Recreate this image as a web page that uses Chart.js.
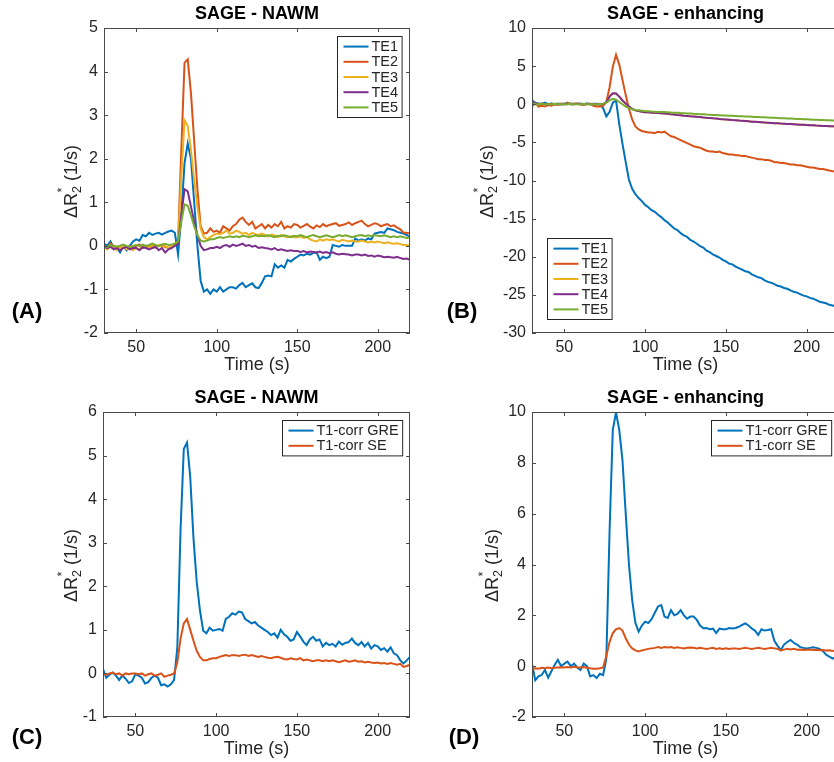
<!DOCTYPE html>
<html>
<head>
<meta charset="utf-8">
<script src="https://cdn.jsdelivr.net/npm/chart.js@4.4.1/dist/chart.umd.min.js"></script>
<style>
  html, body { margin: 0; padding: 0; background: #fff; overflow: hidden; width: 834px; height: 762px; }
  canvas { position: absolute; }
</style>
</head>
<body>
<canvas id="chartA" width="420" height="380" style="left:0;top:0"></canvas>
<canvas id="chartB" width="430" height="380" style="left:420px;top:0"></canvas>
<canvas id="chartC" width="420" height="382" style="left:0;top:380px"></canvas>
<canvas id="chartD" width="430" height="382" style="left:420px;top:380px"></canvas>
<script>
/* global Chart */
// sample times (s)
const time = [
  30, 32, 34, 36, 38, 40, 42, 44, 46, 48,
  50, 52, 54, 56, 58, 60, 62, 64, 66, 68,
  70, 72, 74, 76, 78, 80, 82, 84, 86, 88,
  90, 92, 94, 96, 98, 100, 102, 104, 106, 108,
  110, 112, 114, 116, 118, 120, 122, 124, 126, 128,
  130, 132, 134, 136, 138, 140, 142, 144, 146, 148,
  150, 152, 154, 156, 158, 160, 162, 164, 166, 168,
  170, 172, 174, 176, 178, 180, 182, 184, 186, 188,
  190, 192, 194, 196, 198, 200, 202, 204, 206, 208,
  210, 212, 214, 216, 218, 220,
];

const timeTicks = [50, 100, 150, 200];
const ticksA = [-2, -1, 0, 1, 2, 3, 4, 5];
const ticksB = [-30, -25, -20, -15, -10, -5, 0, 5, 10];
const ticksC = [-1, 0, 1, 2, 3, 4, 5, 6];
const ticksD = [-2, 0, 2, 4, 6, 8, 10];

const teLabels = ['TE1', 'TE2', 'TE3', 'TE4', 'TE5'];
const corrLabels = ['T1-corr GRE', 'T1-corr SE'];

// (A) SAGE - NAWM, per echo
const nawmTE1 = [
  0.05, 0.0, 0.1, -0.05, -0.05, -0.15, 0.0, -0.1, 0.0, 0.1,
  0.15, 0.12, 0.25, 0.22, 0.3, 0.25, 0.28, 0.3, 0.26, 0.3,
  0.33, 0.35, 0.3, -0.2, 0.7, 1.9, 2.35, 2.0, 1.0, 0.0,
  -0.8, -1.05, -1.0, -1.1, -1.0, -1.05, -0.95, -1.05, -1.0, -0.95,
  -0.95, -0.98, -0.9, -0.85, -0.95, -0.9, -0.86, -0.95, -0.97, -0.85,
  -0.7, -0.68, -0.7, -0.42, -0.5, -0.45, -0.5, -0.32, -0.36, -0.3,
  -0.25, -0.2, -0.22, -0.18, -0.2, -0.16, -0.15, -0.32, -0.25, -0.28,
  -0.25, 0.02, 0.0, -0.02, 0.02, 0.0, 0.0, 0.0, 0.17, 0.12,
  0.15, 0.12, 0.17, 0.15, 0.28, 0.3, 0.32, 0.3, 0.4, 0.38,
  0.36, 0.32, 0.3, 0.28, 0.25, 0.2,
];
const nawmTE2 = [
  0.0, -0.05, 0.05, 0.0, -0.05, 0.0, 0.02, -0.05, 0.0, -0.05,
  0.0, 0.03, -0.05, 0.0, -0.03, 0.02, -0.02, 0.0, 0.02, -0.03,
  -0.05, 0.0, 0.02, 0.1, 2.2, 4.2, 4.28, 3.5, 2.4, 1.3,
  0.45, 0.28, 0.3, 0.4, 0.32, 0.35, 0.3, 0.45, 0.4, 0.35,
  0.45, 0.5, 0.6, 0.65, 0.55, 0.48, 0.55, 0.4, 0.45, 0.5,
  0.4, 0.48, 0.42, 0.5, 0.45, 0.55, 0.4, 0.45, 0.42, 0.5,
  0.48, 0.42, 0.46, 0.5, 0.44, 0.4, 0.47, 0.43, 0.5, 0.45,
  0.48, 0.5, 0.52, 0.46, 0.48, 0.5, 0.54, 0.48, 0.52, 0.55,
  0.58, 0.5, 0.45, 0.48, 0.52, 0.5, 0.45, 0.48, 0.5, 0.45,
  0.47, 0.42, 0.38, 0.3, 0.3, 0.28,
];
const nawmTE3 = [
  -0.02, -0.08, 0.0, -0.05, -0.1, -0.05, 0.0, -0.08, -0.05, -0.1,
  -0.05, -0.08, 0.0, -0.05, -0.03, 0.0, -0.05, 0.02, -0.03, 0.0,
  -0.05, 0.0, 0.05, 0.1, 1.6, 2.88, 2.75, 2.2, 1.5, 0.9,
  0.4, 0.2, 0.15, 0.2, 0.25, 0.28, 0.27, 0.3, 0.35, 0.28,
  0.3, 0.35, 0.32, 0.28, 0.3, 0.25, 0.3, 0.27, 0.25, 0.28,
  0.25, 0.22, 0.26, 0.24, 0.2, 0.25, 0.22, 0.2, 0.22, 0.2,
  0.2, 0.22, 0.18, 0.2, 0.15, 0.12, 0.1, 0.15, 0.12, 0.15,
  0.13, 0.15, 0.12, 0.1, 0.14, 0.12, 0.1, 0.12, 0.1, 0.1,
  0.12, 0.1, 0.08, 0.1, 0.08, 0.1, 0.08, 0.06, 0.08, 0.06,
  0.05, 0.06, 0.04, 0.02, 0.02, 0.0,
];
const nawmTE4 = [
  0.0, -0.05, -0.02, -0.08, -0.05, -0.1, -0.05, -0.02, -0.08, -0.05,
  -0.05, -0.1, -0.03, -0.05, -0.08, -0.05, -0.02, -0.1, -0.05, -0.15,
  -0.08, -0.05, 0.0, 0.05, 0.7, 1.3, 1.25, 0.9, 0.55, 0.25,
  0.0, -0.1, -0.08, -0.05, -0.05, -0.02, -0.05, 0.0, 0.02, -0.02,
  0.03, 0.0, 0.02, 0.05, 0.0, 0.02, -0.02, 0.0, -0.05, -0.03,
  -0.05, -0.06, -0.08, -0.05, -0.1, -0.08, -0.1, -0.12, -0.1, -0.12,
  -0.12, -0.14, -0.12, -0.15, -0.13, -0.14, -0.15, -0.13, -0.16, -0.14,
  -0.17, -0.15, -0.18, -0.2, -0.18, -0.19, -0.2, -0.22, -0.2, -0.2,
  -0.22, -0.2, -0.23, -0.22, -0.25, -0.22, -0.24, -0.26, -0.25, -0.26,
  -0.27, -0.25, -0.28, -0.3, -0.29, -0.32,
];
const nawmTE5 = [
  0.0, -0.03, 0.02, 0.0, -0.02, 0.0, 0.03, 0.0, -0.02, 0.0,
  0.02, 0.0, 0.03, 0.0, 0.02, 0.05, 0.02, 0.0, 0.03, 0.05,
  0.02, 0.03, 0.05, 0.1, 0.55, 0.95, 0.92, 0.7, 0.45, 0.25,
  0.12, 0.1, 0.12, 0.15, 0.15, 0.18, 0.2, 0.18, 0.2, 0.22,
  0.2, 0.22, 0.2, 0.23, 0.22, 0.2, 0.22, 0.24, 0.22, 0.23,
  0.22, 0.24, 0.22, 0.2, 0.23, 0.22, 0.24, 0.22, 0.2, 0.23,
  0.22, 0.25, 0.22, 0.2, 0.23, 0.25, 0.22, 0.2, 0.22, 0.24,
  0.22, 0.2, 0.22, 0.25, 0.22, 0.24, 0.22, 0.2, 0.22, 0.24,
  0.25, 0.22, 0.24, 0.22, 0.25, 0.23, 0.22, 0.24, 0.22, 0.2,
  0.22, 0.2, 0.22, 0.2, 0.18, 0.2,
];

// (B) SAGE - enhancing, per echo
const enhTE1 = [
  0.5, 0.2, 0.1, 0.0, 0.2, 0.0, 0.1, 0.0, 0.1, 0.0,
  0.1, 0.0, 0.1, 0.0, 0.05, 0.1, 0.0, 0.1, 0.0, 0.05,
  0.05, 0.0, -0.5, -1.6, -1.0, 0.2, 0.5, -2.6, -5.2, -7.6,
  -9.9, -11.1, -11.8, -12.3, -12.7, -13.2, -13.5, -13.9, -14.1, -14.5,
  -14.8, -15.2, -15.5, -15.9, -16.3, -16.5, -16.9, -17.2, -17.4, -17.8,
  -18.0, -18.3, -18.6, -18.8, -19.2, -19.4, -19.7, -19.9, -20.1, -20.4,
  -20.6, -20.9, -21.0, -21.3, -21.5, -21.7, -21.9, -22.0, -22.3, -22.5,
  -22.7, -22.8, -23.1, -23.3, -23.4, -23.6, -23.8, -23.9, -24.1, -24.2,
  -24.4, -24.6, -24.7, -24.9, -25.1, -25.2, -25.4, -25.5, -25.7, -25.9,
  -26.0, -26.1, -26.3, -26.4, -26.5, -26.6,
];
const enhTE2 = [
  -0.3, 0.2, -0.3, -0.2, -0.3, -0.1, -0.2, 0.0, -0.1, 0.1,
  0.0, 0.2, 0.0, 0.1, 0.1, 0.0, -0.1, 0.0, 0.1, -0.2,
  -0.3, -0.3, -0.2, 0.3, 2.2, 4.9, 6.5, 5.2, 3.2, 1.2,
  -0.6, -2.0, -2.9, -3.3, -3.5, -3.6, -3.7, -3.7, -3.8, -3.6,
  -3.7, -3.6, -3.9, -4.2, -4.3, -4.5, -4.7, -4.9, -5.1, -5.3,
  -5.5, -5.6, -5.7, -5.9, -6.1, -6.2, -6.2, -6.3, -6.2, -6.4,
  -6.5, -6.6, -6.6, -6.7, -6.7, -6.8, -6.8, -6.9, -7.0, -7.1,
  -7.2, -7.2, -7.3, -7.3, -7.4, -7.6, -7.6, -7.7, -7.7, -7.8,
  -7.9, -7.9, -8.0, -8.0, -8.1, -8.2, -8.3, -8.3, -8.4, -8.5,
  -8.5, -8.6, -8.7, -8.8, -8.8, -8.9,
];
const enhTE3 = [
  0.2, 0.1, 0.0, 0.1, 0.0, 0.0, 0.05, 0.0, 0.0, 0.0,
  0.0, 0.05, 0.0, 0.0, 0.05, 0.0, 0.0, 0.05, 0.0, 0.0,
  0.0, 0.0, 0.0, 0.3, 1.0, 1.45, 1.4, 1.0, 0.5, 0.1,
  -0.3, -0.6, -0.8, -0.9, -1.0, -1.05, -1.05, -1.1, -1.12, -1.15,
  -1.18, -1.22, -1.25, -1.3, -1.33, -1.4, -1.43, -1.5, -1.53, -1.58,
  -1.6, -1.65, -1.68, -1.74, -1.78, -1.8, -1.85, -1.88, -1.93, -1.97,
  -2.0, -2.04, -2.08, -2.1, -2.14, -2.18, -2.2, -2.24, -2.28, -2.3,
  -2.33, -2.36, -2.4, -2.42, -2.45, -2.48, -2.5, -2.53, -2.55, -2.58,
  -2.6, -2.62, -2.65, -2.68, -2.7, -2.72, -2.75, -2.77, -2.8, -2.82,
  -2.84, -2.86, -2.88, -2.9, -2.92, -2.94,
];
const enhTE4 = [
  0.2, 0.1, 0.0, 0.1, 0.0, 0.0, 0.05, 0.0, 0.0, 0.0,
  0.0, 0.05, 0.0, 0.0, 0.05, 0.0, 0.0, 0.05, 0.0, 0.0,
  0.0, 0.0, 0.0, 0.3, 1.0, 1.45, 1.4, 1.0, 0.5, 0.1,
  -0.3, -0.6, -0.8, -0.9, -1.0, -1.05, -1.05, -1.1, -1.12, -1.15,
  -1.18, -1.22, -1.25, -1.3, -1.33, -1.4, -1.43, -1.5, -1.53, -1.58,
  -1.6, -1.65, -1.68, -1.74, -1.78, -1.8, -1.85, -1.88, -1.93, -1.97,
  -2.0, -2.04, -2.08, -2.1, -2.14, -2.18, -2.2, -2.24, -2.28, -2.3,
  -2.33, -2.36, -2.4, -2.42, -2.45, -2.48, -2.5, -2.53, -2.55, -2.58,
  -2.6, -2.62, -2.65, -2.68, -2.7, -2.72, -2.75, -2.77, -2.8, -2.82,
  -2.84, -2.86, -2.88, -2.9, -2.92, -2.94,
];
const enhTE5 = [
  0.1, 0.0, 0.0, 0.05, 0.0, 0.0, 0.0, 0.05, 0.0, 0.0,
  0.0, 0.0, 0.05, 0.0, 0.0, 0.0, 0.05, 0.0, 0.0, 0.0,
  0.0, 0.0, 0.05, 0.2, 0.5, 0.7, 0.6, 0.3, 0.0, -0.3,
  -0.5, -0.65, -0.75, -0.8, -0.85, -0.9, -0.92, -0.95, -0.97, -1.0,
  -1.0, -1.02, -1.05, -1.08, -1.1, -1.12, -1.15, -1.17, -1.2, -1.22,
  -1.25, -1.27, -1.3, -1.32, -1.35, -1.37, -1.4, -1.42, -1.44, -1.46,
  -1.48, -1.5, -1.52, -1.54, -1.56, -1.58, -1.6, -1.62, -1.64, -1.66,
  -1.68, -1.7, -1.72, -1.74, -1.76, -1.78, -1.8, -1.82, -1.84, -1.86,
  -1.88, -1.9, -1.92, -1.94, -1.96, -1.98, -2.0, -2.02, -2.04, -2.06,
  -2.08, -2.1, -2.11, -2.12, -2.13, -2.15,
];

// (C) SAGE - NAWM, T1-corrected
const nawmGRE = [
  0.1, -0.1, -0.03, 0.02, -0.05, -0.15, -0.05, -0.12, -0.22, -0.18,
  -0.02, -0.05, -0.1, -0.23, -0.2, -0.1, -0.05, -0.1, -0.27, -0.25,
  -0.3, -0.25, -0.15, 0.6, 3.3, 5.15, 5.3, 4.5, 3.1, 2.1,
  1.45, 0.98, 0.92, 1.05, 0.98, 1.0, 1.02, 0.98, 1.25, 1.3,
  1.38, 1.35, 1.42, 1.4, 1.25, 1.2, 1.15, 1.18, 1.1, 1.05,
  1.0, 0.95, 0.88, 0.92, 0.82, 1.0, 0.9, 0.84, 0.75, 0.78,
  0.95, 0.85, 0.73, 0.65, 0.78, 0.84, 0.75, 0.78, 0.62, 0.7,
  0.65, 0.68, 0.62, 0.73, 0.66, 0.7, 0.72, 0.8, 0.7, 0.65,
  0.72, 0.62, 0.7, 0.57, 0.65, 0.62, 0.54, 0.58, 0.5, 0.6,
  0.46, 0.42, 0.3, 0.23, 0.3, 0.38,
];
const nawmSE = [
  0.0, -0.03, 0.0, 0.02, -0.02, 0.0, -0.05, 0.0, -0.02, 0.0,
  0.0, -0.02, 0.0, -0.05, -0.02, 0.0, -0.05, -0.03, 0.0, -0.08,
  -0.05, -0.03, 0.0, 0.25, 0.8, 1.15, 1.25, 1.0, 0.75, 0.52,
  0.38, 0.3, 0.3, 0.33, 0.35, 0.35, 0.38, 0.4, 0.42, 0.4,
  0.42, 0.42, 0.4, 0.42, 0.43, 0.4, 0.42, 0.4, 0.38, 0.4,
  0.38, 0.36, 0.35, 0.37, 0.38, 0.36, 0.33, 0.32, 0.35, 0.33,
  0.32, 0.35, 0.3, 0.32, 0.3, 0.28, 0.3, 0.3, 0.28, 0.3,
  0.28, 0.3, 0.28, 0.26, 0.28, 0.3, 0.27, 0.28, 0.3, 0.27,
  0.28, 0.25, 0.27, 0.25, 0.24, 0.25, 0.23, 0.24, 0.22, 0.24,
  0.22, 0.2, 0.22, 0.15, 0.17, 0.2,
];

// (D) SAGE - enhancing, T1-corrected
const enhGRE = [
  0.1, -0.55, -0.4, -0.35, -0.15, -0.45, -0.2, 0.05, 0.25, 0.0,
  0.1, 0.18, 0.0, 0.1, -0.05, -0.15, 0.1, 0.0, -0.4, -0.35,
  -0.47, -0.3, -0.35, 0.3, 5.3, 9.3, 9.98, 9.3, 8.1, 6.0,
  4.0, 2.6, 1.7, 1.36, 1.6, 1.75, 1.7, 1.85, 2.1, 2.35,
  2.4, 1.95, 1.9, 2.2, 2.0, 2.06, 2.2, 2.0, 1.87, 1.95,
  1.95, 1.82, 1.6, 1.49, 1.5, 1.45, 1.48, 1.3, 1.48, 1.45,
  1.45, 1.5, 1.48, 1.5, 1.55, 1.62, 1.68, 1.6, 1.48, 1.4,
  1.23, 1.45, 1.4, 1.42, 1.45, 1.0, 0.8, 0.64, 0.85, 0.95,
  1.03, 0.92, 0.85, 0.75, 0.72, 0.7, 0.72, 0.74, 0.72, 0.68,
  0.6, 0.45, 0.38, 0.3, 0.35, 0.3,
];
const enhSE = [
  -0.1, -0.08, -0.1, -0.06, -0.08, -0.05, -0.08, -0.06, -0.05, -0.04,
  -0.05, -0.03, -0.05, -0.02, -0.04, -0.05, -0.03, -0.06, -0.08, -0.1,
  -0.1, -0.08, -0.05, 0.4, 0.95, 1.3, 1.45, 1.5, 1.4, 1.1,
  0.85, 0.7, 0.62, 0.58, 0.62, 0.65, 0.68, 0.7, 0.72, 0.75,
  0.72, 0.75, 0.73, 0.75, 0.72, 0.74, 0.72, 0.7, 0.72, 0.73,
  0.72, 0.7, 0.72, 0.7, 0.68, 0.7, 0.72, 0.68, 0.7, 0.68,
  0.7, 0.68, 0.7, 0.7, 0.68, 0.7, 0.72, 0.7, 0.68, 0.7,
  0.72, 0.7, 0.68, 0.7, 0.72, 0.7, 0.68, 0.62, 0.65, 0.68,
  0.66, 0.68, 0.65, 0.66, 0.64, 0.65, 0.66, 0.64, 0.65, 0.63,
  0.64, 0.62, 0.63, 0.6, 0.62, 0.6,
];

const colors = ['#0072BD', '#D95319', '#EDB120', '#7E2F8E', '#77AC30'];
const FONT = '"Liberation Sans", Arial, Helvetica, sans-serif';
const INK = '#262626';

function drawYLabel(ctx, cx, cy) {
  ctx.save();
  ctx.translate(cx, cy);
  ctx.rotate(-Math.PI / 2);
  ctx.fillStyle = INK;
  ctx.textAlign = 'left';
  ctx.textBaseline = 'alphabetic';
  const big = `18px ${FONT}`;
  const small = `12.5px ${FONT}`;
  ctx.font = big;
  const w1 = ctx.measureText('\u0394R').width;
  const w3 = ctx.measureText(' (1/s)').width;
  ctx.font = small;
  const w2 = ctx.measureText('2').width;
  let x = -(w1 + w2 + w3) / 2;
  const base = 6.5;
  ctx.font = big;
  ctx.fillText('\u0394R', x, base);
  x += w1;
  ctx.font = small;
  ctx.fillText('2', x, base + 4);
  ctx.fillText('*', x + 0.5, base - 10.5);
  x += w2;
  ctx.font = big;
  ctx.fillText(' (1/s)', x, base);
  ctx.restore();
}

function drawLegend(chart, corner) {
  const { ctx, chartArea } = chart;
  const sets = chart.data.datasets;
  const rowH = 15.2;
  ctx.save();
  ctx.font = `14.5px ${FONT}`;
  const textW = Math.max(...sets.map((d) => ctx.measureText(d.label).width));
  const w = 34 + textW + 4;
  const h = sets.length * rowH + 5;
  let bx;
  let by;
  if (corner === 'sw') {
    bx = chartArea.left + 15;
    by = chartArea.bottom - 14 - h;
  } else {
    bx = chartArea.right - 8 - w;
    by = chartArea.top + 8;
  }
  bx = Math.round(bx) + 0.5;
  by = Math.round(by) + 0.5;
  ctx.fillStyle = '#fff';
  ctx.fillRect(bx, by, w, h);
  ctx.strokeStyle = '#262626';
  ctx.lineWidth = 1;
  ctx.strokeRect(bx, by, w, h);
  ctx.textBaseline = 'middle';
  ctx.textAlign = 'left';
  sets.forEach((d, i) => {
    const cy = by + 2.5 + rowH * i + rowH / 2;
    ctx.strokeStyle = d.borderColor;
    ctx.lineWidth = 2;
    ctx.beginPath();
    ctx.moveTo(bx + 6, cy);
    ctx.lineTo(bx + 31, cy);
    ctx.stroke();
    ctx.fillStyle = INK;
    ctx.fillText(d.label, bx + 34, cy + 0.5);
  });
  ctx.restore();
}

const panelDecor = {
  id: 'panelDecor',
  afterDraw(chart, args, opts) {
    const { ctx, chartArea: { left, top, right, bottom } } = chart;
    const xs = chart.scales.x;
    const ys = chart.scales.y;
    ctx.save();
    // axes box with inward ticks on all sides
    ctx.strokeStyle = '#4a4a4a';
    ctx.lineWidth = 1;
    ctx.strokeRect(left + 0.5, top + 0.5, right - left - 1, bottom - top - 1);
    const tl = 4;
    ctx.beginPath();
    xs.ticks.forEach((t) => {
      const px = Math.round(xs.getPixelForValue(t.value)) + 0.5;
      ctx.moveTo(px, bottom);
      ctx.lineTo(px, bottom - tl);
      ctx.moveTo(px, top);
      ctx.lineTo(px, top + tl);
    });
    ys.ticks.forEach((t) => {
      const py = Math.round(ys.getPixelForValue(t.value)) + 0.5;
      ctx.moveTo(left, py);
      ctx.lineTo(left + tl, py);
      ctx.moveTo(right, py);
      ctx.lineTo(right - tl, py);
    });
    ctx.stroke();

    const cx = (left + right) / 2;
    ctx.textAlign = 'center';
    ctx.textBaseline = 'middle';
    ctx.fillStyle = '#000';
    ctx.font = `bold 18px ${FONT}`;
    ctx.fillText(opts.title, cx, top - 13.5);
    ctx.fillStyle = INK;
    ctx.font = `18px ${FONT}`;
    ctx.fillText('Time (s)', cx, bottom + 32);
    ctx.fillStyle = '#000';
    ctx.font = `bold 22px ${FONT}`;
    ctx.fillText(opts.letter, opts.letterX, opts.letterY);
    ctx.restore();

    drawYLabel(ctx, left - opts.ylabelOffset, (top + bottom) / 2 + 1);
    drawLegend(chart, opts.legendCorner);
  },
};

function makeDatasets(labels, series) {
  return series.map((values, i) => ({
    label: labels[i],
    data: values.map((v, k) => ({ x: time[k], y: v })),
    borderColor: colors[i],
    borderWidth: 2,
    pointRadius: 0,
    tension: 0,
    fill: false,
    order: -i,
  }));
}

function renderPanel(id, panel) {
  const el = document.getElementById(id);
  const tickFont = { family: FONT, size: 16 };
  return new Chart(el, {
    type: 'line',
    data: { datasets: makeDatasets(panel.labels, panel.series) },
    options: {
      animation: false,
      responsive: false,
      devicePixelRatio: 1,
      layout: { padding: { left: 0, top: panel.area.top, right: el.width - panel.area.right, bottom: 0 } },
      scales: {
        x: {
          type: 'linear',
          min: 30,
          max: 220,
          grid: { display: false, drawTicks: false },
          border: { display: false },
          afterBuildTicks: (scale) => { scale.ticks = timeTicks.map((value) => ({ value })); },
          afterFit: (scale) => { scale.height = el.height - panel.area.bottom; },
          ticks: { color: INK, font: tickFont, padding: 5, maxRotation: 0, autoSkip: false, callback: (v) => String(v) },
        },
        y: {
          type: 'linear',
          min: panel.yTicks[0],
          max: panel.yTicks[panel.yTicks.length - 1],
          grid: { display: false, drawTicks: false },
          border: { display: false },
          afterBuildTicks: (scale) => { scale.ticks = panel.yTicks.map((value) => ({ value })); },
          afterFit: (scale) => { scale.width = panel.area.left; },
          ticks: { color: INK, font: tickFont, padding: 6, autoSkip: false, callback: (v) => String(v) },
        },
      },
      plugins: {
        legend: { display: false },
        tooltip: { enabled: false },
        panelDecor: panel.decor,
      },
    },
    plugins: [panelDecor],
  });
}

renderPanel('chartA', {
  labels: teLabels,
  series: [nawmTE1, nawmTE2, nawmTE3, nawmTE4, nawmTE5],
  yTicks: ticksA,
  area: { left: 104, top: 28, right: 410, bottom: 333 },
  decor: { title: 'SAGE - NAWM', letter: '(A)', letterX: 27, letterY: 312, ylabelOffset: 34, legendCorner: 'ne' },
});
renderPanel('chartB', {
  labels: teLabels,
  series: [enhTE1, enhTE2, enhTE3, enhTE4, enhTE5],
  yTicks: ticksB,
  area: { left: 112, top: 28, right: 419, bottom: 333 },
  decor: { title: 'SAGE - enhancing', letter: '(B)', letterX: 42, letterY: 312, ylabelOffset: 46, legendCorner: 'sw' },
});
renderPanel('chartC', {
  labels: corrLabels,
  series: [nawmGRE, nawmSE],
  yTicks: ticksC,
  area: { left: 103, top: 32, right: 410, bottom: 337 },
  decor: { title: 'SAGE - NAWM', letter: '(C)', letterX: 27, letterY: 358, ylabelOffset: 33, legendCorner: 'ne' },
});
renderPanel('chartD', {
  labels: corrLabels,
  series: [enhGRE, enhSE],
  yTicks: ticksD,
  area: { left: 112, top: 32, right: 419, bottom: 337 },
  decor: { title: 'SAGE - enhancing', letter: '(D)', letterX: 44, letterY: 358, ylabelOffset: 41, legendCorner: 'ne' },
});
</script>
</body>
</html>
